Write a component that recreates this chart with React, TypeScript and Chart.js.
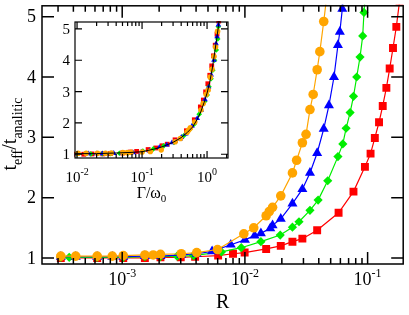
import React, { useEffect, useRef } from "react";
import { Chart, registerables } from "chart.js";
Chart.register(...registerables);

// ---------- main panel data (R vs t_eff/t_analitic) ----------
const orangeR = [3.16e-4, 4.18e-4, 6.25e-4, 8.3e-4, 1.02e-3, 1.53e-3, 1.79e-3, 2.05e-3, 3.03e-3, 4.05e-3, 5.98e-3, 9.8e-3, 1.18e-2, 1.49e-2, 1.58e-2, 1.68e-2, 1.96e-2, 2.44e-2, 2.64e-2, 2.94e-2, 3.15e-2, 3.39e-2, 3.6e-2, 3.88e-2, 4.08e-2, 4.39e-2, 4.75e-2];
const orangeT = [1.03, 1.03, 1.03, 1.03, 1.04, 1.05, 1.05, 1.06, 1.07, 1.09, 1.14, 1.40, 1.50, 1.70, 1.77, 1.84, 2.03, 2.41, 2.62, 2.91, 3.05, 3.46, 3.71, 4.12, 4.42, 4.92, 5.5];

const blueR = [3.16e-4, 4.18e-4, 6.25e-4, 8.3e-4, 1.02e-3, 1.53e-3, 2.05e-3, 3.03e-3, 4.05e-3, 5.4e-3, 7.67e-3, 1.0e-2, 1.2e-2, 1.35e-2, 1.61e-2, 1.68e-2, 1.96e-2, 2.44e-2, 2.94e-2, 3.39e-2, 3.88e-2, 4.39e-2, 4.84e-2, 5.32e-2, 5.73e-2, 5.94e-2, 6.22e-2, 6.6e-2];
const blueT = [1.02, 1.02, 1.02, 1.02, 1.02, 1.03, 1.03, 1.05, 1.07, 1.11, 1.22, 1.30, 1.37, 1.41, 1.49, 1.54, 1.65, 1.90, 2.14, 2.41, 2.74, 3.14, 3.53, 4.0, 4.53, 4.75, 5.13, 5.6];

const greenR = [3.16e-4, 3.7e-4, 6.25e-4, 1.02e-3, 1.53e-3, 2.05e-3, 2.8e-3, 3.81e-3, 6.44e-3, 9.34e-3, 1.35e-2, 1.94e-2, 2.44e-2, 2.76e-2, 3.39e-2, 3.95e-2, 4.73e-2, 5.73e-2, 6.28e-2, 6.68e-2, 7.2e-2, 7.67e-2, 8.15e-2, 8.67e-2, 9.12e-2, 9.34e-2, 9.7e-2];
const greenT = [1.01, 1.01, 1.01, 1.01, 1.02, 1.02, 1.03, 1.04, 1.10, 1.17, 1.27, 1.38, 1.51, 1.60, 1.79, 1.96, 2.28, 2.68, 2.89, 3.15, 3.41, 3.68, 4.0, 4.33, 4.68, 5.07, 5.5];

const redR = [3.16e-4, 6.25e-4, 1.02e-3, 1.53e-3, 2.05e-3, 3.0e-3, 3.93e-3, 6.05e-3, 8.0e-3, 9.95e-3, 1.49e-2, 1.96e-2, 2.44e-2, 2.94e-2, 3.88e-2, 5.8e-2, 7.67e-2, 9.51e-2, 0.1057, 0.1145, 0.1239, 0.1328, 0.1422, 0.1513, 0.161, 0.1714, 0.182];
const redT = [1.0, 1.0, 1.0, 1.0, 1.01, 1.01, 1.02, 1.04, 1.07, 1.09, 1.15, 1.20, 1.27, 1.32, 1.46, 1.75, 2.10, 2.51, 2.73, 2.99, 3.25, 3.52, 3.82, 4.14, 4.48, 4.83, 5.25];

// ---------- inset data (Γ/ω0 vs t_eff/t_analitic) ----------
const insetOrangeG = [0.0104, 0.0138, 0.0206, 0.0274, 0.0337, 0.0505, 0.0591, 0.0677, 0.1, 0.134, 0.197, 0.323, 0.389, 0.492, 0.521, 0.554, 0.647, 0.805, 0.871, 0.97, 1.04, 1.12, 1.19, 1.28, 1.35, 1.45, 1.57];
const insetBlueG = [0.0076, 0.010, 0.015, 0.020, 0.0245, 0.0367, 0.0492, 0.0727, 0.0972, 0.13, 0.184, 0.24, 0.288, 0.324, 0.386, 0.403, 0.47, 0.586, 0.706, 0.814, 0.931, 1.054, 1.16, 1.277, 1.375, 1.426, 1.493, 1.584];
const insetGreenG = [0.0051, 0.0059, 0.01, 0.0163, 0.0245, 0.0328, 0.0448, 0.061, 0.103, 0.149, 0.216, 0.31, 0.39, 0.442, 0.542, 0.632, 0.757, 0.917, 1.005, 1.069, 1.152, 1.227, 1.304, 1.387, 1.459, 1.494, 1.552];
const insetRedG = [0.0026, 0.0052, 0.0085, 0.0127, 0.017, 0.0249, 0.0326, 0.0502, 0.0664, 0.0826, 0.124, 0.163, 0.203, 0.244, 0.322, 0.481, 0.637, 0.789, 0.877, 0.95, 1.028, 1.102, 1.18, 1.256, 1.336, 1.423, 1.511];
const curveG = [0.0093, 0.02, 0.04, 0.07, 0.1, 0.15, 0.2, 0.3, 0.4, 0.5, 0.6, 0.7, 0.8, 0.9, 1.0, 1.1, 1.2, 1.3, 1.4, 1.5, 1.6];
const curveT = [1.02, 1.02, 1.04, 1.06, 1.08, 1.16, 1.23, 1.38, 1.53, 1.70, 1.87, 2.1, 2.35, 2.65, 2.95, 3.3, 3.72, 4.2, 4.65, 5.1, 5.6];

// ---------- ticks ----------
const mainYTicks = [1, 2, 3, 4, 5];
const mainXMajor = [1e-3, 1e-2, 1e-1];
const mainXExp = ["-3", "-2", "-1"];
const insetYTicks = [1, 2, 3, 4, 5];
const insetXMajor = [1e-2, 1e-1, 1];
const insetXExp = ["-2", "-1", "0"];

const ORANGE = "#ffa500";
const BLUE = "#0000ff";
const GREEN = "#00ee00";
const RED = "#ff0000";
const SERIF = '"Liberation Serif", "Times New Roman", serif';

function minorTicks(min: number, max: number): number[] {
  const out: number[] = [];
  for (let e = Math.floor(Math.log10(min)); e <= Math.ceil(Math.log10(max)); e++) {
    for (let m = 2; m <= 9; m++) {
      const v = m * Math.pow(10, e);
      if (v > min && v < max) out.push(v);
    }
  }
  return out;
}

function ds(xs: number[], ys: number[], color: string, style: string, radius: number, line: boolean) {
  return {
    data: xs.map((x, i) => ({ x, y: ys[i] })),
    borderColor: color,
    backgroundColor: color,
    pointStyle: style,
    pointRadius: radius,
    pointBorderWidth: 0,
    pointHoverRadius: radius,
    borderWidth: 1.2,
    showLine: line,
    tension: 0,
    clip: 1,
  };
}

type FrameOpts = {
  xMin: number; xMax: number;
  yTicks: number[]; xMajor: number[]; xExp: string[];
  major: number; minor: number; lw: number;
  yFont: number; xFont: number; supFont: number; supRaise: number;
  yLabelGap: number; xLabelBase: number;
  fill?: boolean;
  extra: (ctx: CanvasRenderingContext2D, a: any) => void;
};

function framePlugin(o: FrameOpts) {
  return {
    id: "frame",
    beforeDatasetsDraw(chart: any) {
      if (!o.fill) return;
      const { ctx, chartArea: a } = chart;
      ctx.save();
      ctx.fillStyle = "#fff";
      ctx.fillRect(a.left, a.top, a.right - a.left, a.bottom - a.top);
      ctx.restore();
    },
    afterDraw(chart: any) {
      const { ctx, chartArea: a, scales } = chart;
      const xs = scales.x, ys = scales.y;
      ctx.save();
      ctx.strokeStyle = "#000";
      ctx.lineWidth = o.lw;
      ctx.beginPath();
      for (const v of o.yTicks) {
        const p = ys.getPixelForValue(v);
        ctx.moveTo(a.left, p); ctx.lineTo(a.left + o.major, p);
        ctx.moveTo(a.right, p); ctx.lineTo(a.right - o.major, p);
      }
      for (const v of o.xMajor) {
        const p = xs.getPixelForValue(v);
        ctx.moveTo(p, a.bottom); ctx.lineTo(p, a.bottom - o.major);
        ctx.moveTo(p, a.top); ctx.lineTo(p, a.top + o.major);
      }
      for (const v of minorTicks(o.xMin, o.xMax)) {
        const p = xs.getPixelForValue(v);
        ctx.moveTo(p, a.bottom); ctx.lineTo(p, a.bottom - o.minor);
        ctx.moveTo(p, a.top); ctx.lineTo(p, a.top + o.minor);
      }
      ctx.stroke();
      ctx.strokeRect(a.left, a.top, a.right - a.left, a.bottom - a.top);

      ctx.fillStyle = "#000";
      ctx.font = `${o.yFont}px ${SERIF}`;
      ctx.textAlign = "right";
      ctx.textBaseline = "middle";
      for (const v of o.yTicks) {
        ctx.fillText(String(v), a.left - o.yLabelGap, ys.getPixelForValue(v) + 1);
      }
      ctx.textAlign = "left";
      ctx.textBaseline = "alphabetic";
      o.xMajor.forEach((v, i) => {
        const p = xs.getPixelForValue(v);
        const bf = `${o.xFont}px ${SERIF}`;
        const sf = `${o.supFont}px ${SERIF}`;
        ctx.font = bf;
        const wb = ctx.measureText("10").width;
        ctx.font = sf;
        const wsup = ctx.measureText(o.xExp[i]).width;
        const x0 = p - (wb + wsup) / 2;
        ctx.font = bf;
        ctx.fillText("10", x0, a.bottom + o.xLabelBase);
        ctx.font = sf;
        ctx.fillText(o.xExp[i], x0 + wb, a.bottom + o.xLabelBase - o.supRaise);
      });
      o.extra(ctx, a);
      ctx.restore();
    },
  };
}

const MAIN_XMIN = 2.22e-4, MAIN_XMAX = 0.195;
const INSET_XMIN = 0.0093, INSET_XMAX = 2.1;

export default function App() {
  const mainRef = useRef<HTMLCanvasElement>(null);
  const insetRef = useRef<HTMLCanvasElement>(null);

  useEffect(() => {
    document.body.style.margin = "0";
    const main = new Chart(mainRef.current as HTMLCanvasElement, {
      type: "scatter",
      data: {
        datasets: [
          ds(orangeR, orangeT, ORANGE, "circle", 4.8, true),
          ds(blueR, blueT, BLUE, "triangle", 5.8, true),
          ds(greenR, greenT, GREEN, "rectRot", 4.6, true),
          ds(redR, redT, RED, "rect", 5.6, true),
        ] as any,
      },
      options: {
        responsive: false,
        animation: false,
        devicePixelRatio: 1,
        events: [],
        layout: { padding: { top: 3, right: 2, left: 0, bottom: 0 } },
        plugins: { legend: { display: false }, tooltip: { enabled: false } },
        scales: {
          x: {
            type: "logarithmic", min: MAIN_XMIN, max: MAIN_XMAX,
            ticks: { display: false }, grid: { display: false }, border: { display: false },
            afterFit: (s: any) => { s.height = 51; },
          },
          y: {
            type: "linear", min: 0.9, max: 5.18,
            ticks: { display: false }, grid: { display: false }, border: { display: false },
            afterFit: (s: any) => { s.width = 42; },
          },
        },
      } as any,
      plugins: [
        framePlugin({
          xMin: MAIN_XMIN, xMax: MAIN_XMAX,
          yTicks: mainYTicks, xMajor: mainXMajor, xExp: mainXExp,
          major: 12, minor: 6, lw: 1.5,
          yFont: 18, xFont: 18, supFont: 12, supRaise: 8,
          yLabelGap: 6, xLabelBase: 21,
          extra: (ctx, a) => {
            ctx.textAlign = "center";
            ctx.font = `20px ${SERIF}`;
            ctx.fillText("R", (a.left + a.right) / 2, 308);
            // rotated y title
            ctx.save();
            ctx.translate(16, 134);
            ctx.rotate(-Math.PI / 2);
            ctx.textAlign = "left";
            const big = `20px ${SERIF}`, small = `14px ${SERIF}`;
            const parts: [string, string, number][] = [
              ["t", big, 0], ["eff", small, 6], ["/t", big, 0], ["analitic", small, 6],
            ];
            let total = 0;
            for (const [t, f] of parts) { ctx.font = f; total += ctx.measureText(t).width; }
            let x = -total / 2;
            for (const [t, f, dy] of parts) {
              ctx.font = f;
              ctx.fillText(t, x, dy);
              x += ctx.measureText(t).width;
            }
            ctx.restore();
          },
        }) as any,
      ],
    });

    const inset = new Chart(insetRef.current as HTMLCanvasElement, {
      type: "scatter",
      data: {
        datasets: [
          { ...ds(curveG, curveT, "#000", "circle", 0, true), borderWidth: 1 },
          ds(insetOrangeG, orangeT, ORANGE, "circle", 2.8, false),
          ds(insetBlueG, blueT, BLUE, "triangle", 3.2, false),
          ds(insetGreenG, greenT, GREEN, "rectRot", 2.8, false),
          ds(insetRedG, redT, RED, "rect", 3.4, false),
        ] as any,
      },
      options: {
        responsive: false,
        animation: false,
        devicePixelRatio: 1,
        events: [],
        layout: { padding: { top: 12, right: 12, left: 0, bottom: 0 } },
        plugins: { legend: { display: false }, tooltip: { enabled: false } },
        scales: {
          x: {
            type: "logarithmic", min: INSET_XMIN, max: INSET_XMAX,
            ticks: { display: false }, grid: { display: false }, border: { display: false },
            afterFit: (s: any) => { s.height = 52; },
          },
          y: {
            type: "linear", min: 0.88, max: 5.22,
            ticks: { display: false }, grid: { display: false }, border: { display: false },
            afterFit: (s: any) => { s.width = 35; },
          },
        },
      } as any,
      plugins: [
        framePlugin({
          xMin: INSET_XMIN, xMax: INSET_XMAX,
          yTicks: insetYTicks, xMajor: insetXMajor, xExp: insetXExp,
          major: 7, minor: 4, lw: 1.2,
          yFont: 15, xFont: 15, supFont: 10, supRaise: 7,
          yLabelGap: 5, xLabelBase: 24, fill: true,
          extra: (ctx, a) => {
            ctx.textAlign = "left";
            const big = `16px ${SERIF}`, small = `11px ${SERIF}`;
            ctx.font = big;
            const w1 = ctx.measureText("Γ/ω").width;
            ctx.font = small;
            const w2 = ctx.measureText("0").width;
            const x0 = (a.left + a.right) / 2 - (w1 + w2) / 2;
            ctx.font = big;
            ctx.fillText("Γ/ω", x0, a.bottom + 40);
            ctx.font = small;
            ctx.fillText("0", x0 + w1, a.bottom + 44);
          },
        }) as any,
      ],
    });

    return () => { main.destroy(); inset.destroy(); };
  }, []);

  return (
    <div style={{ position: "relative", width: 409, height: 315, background: "#fff" }}>
      <canvas ref={mainRef} width={409} height={315} style={{ position: "absolute", left: 0, top: 0 }} />
      <canvas ref={insetRef} width={200} height={200} style={{ position: "absolute", left: 40, top: 10 }} />
    </div>
  );
}
